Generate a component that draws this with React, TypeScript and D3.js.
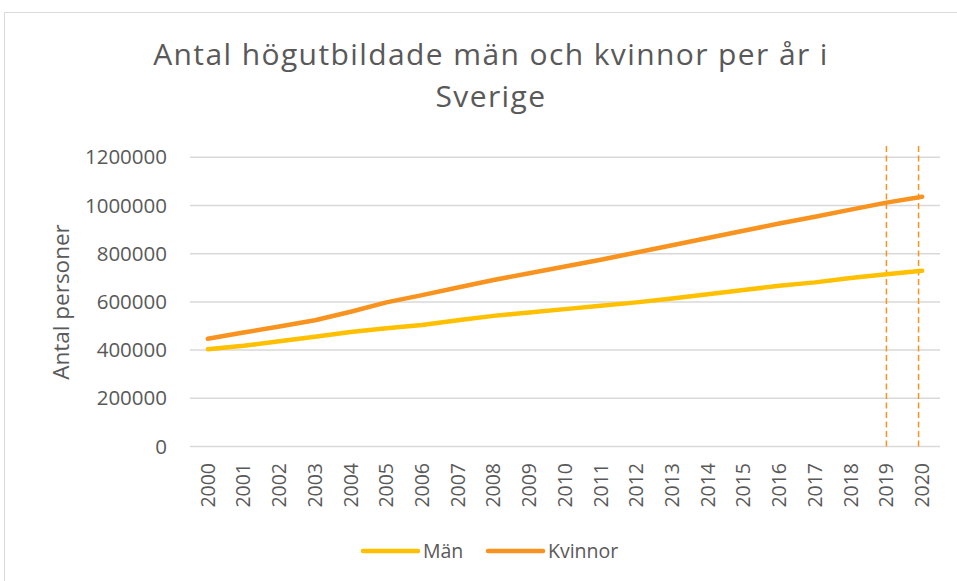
import React, { useRef, useEffect } from 'react';
import * as d3 from 'd3';

// years on the x axis
const years = [
  2000, 2001, 2002, 2003, 2004, 2005, 2006, 2007, 2008, 2009, 2010,
  2011, 2012, 2013, 2014, 2015, 2016, 2017, 2018, 2019, 2020,
];

// number of highly educated persons
const man = [
  404000, 418000, 437000, 455000, 475000, 491000, 504000, 524000, 542000, 556000, 570000,
  584000, 598000, 614000, 632000, 649000, 667000, 681000, 699000, 715000, 729000,
];
const kvinnor = [
  447000, 473000, 498000, 524000, 559000, 598000, 628000, 660000, 691000, 719000, 747000,
  775000, 805000, 835000, 865000, 895000, 925000, 953000, 983000, 1012000, 1036000,
];

const yTicks = [0, 200000, 400000, 600000, 800000, 1000000, 1200000];

// dashed marker lines (year position, top value)
const markerYears = [2019, 2019.9];
const markerTop = 1260000;

const titleLines = ['Antal högutbildade män och kvinnor per år i', 'Sverige'];
const yTitle = 'Antal personer';
const seriesNames = ['Män', 'Kvinnor'];

const YELLOW = '#ffc000';
const ORANGE = '#f7931e';
const TEXT = '#595959';
const GRID = '#d9d9d9';
const FONT = '"Open Sans", "Noto Sans", sans-serif';

function LineChart() {
  const svgRef = useRef<SVGSVGElement>(null);

  useEffect(() => {
    const svg = d3.select(svgRef.current);
    svg.selectAll('*').remove();

    const W = 957;
    const H = 581;

    // x band scale (categories) and y linear scale
    const x = d3.scaleBand<number>().domain(years).range([190, 940]);
    const xc = (yr: number) => (x(yr) as number) + x.bandwidth() / 2;
    const xYear = d3
      .scaleLinear()
      .domain([years[0], years[years.length - 1]])
      .range([xc(years[0]), xc(years[years.length - 1])]);
    const y = d3.scaleLinear().domain([0, 1200000]).range([446.5, 157.3]);

    // outer frame
    svg
      .append('rect')
      .attr('x', 4.5)
      .attr('y', 12.5)
      .attr('width', W + 20)
      .attr('height', H + 20)
      .attr('fill', '#fff')
      .attr('stroke', GRID)
      .attr('stroke-width', 1);

    // title
    svg
      .append('g')
      .selectAll('text')
      .data(titleLines)
      .join('text')
      .attr('x', 491)
      .attr('y', (d, i) => 65 + i * 41.5)
      .attr('text-anchor', 'middle')
      .attr('font-family', FONT)
      .attr('font-size', 30)
      .attr('letter-spacing', 1.4)
      .attr('fill', TEXT)
      .text((d) => d);

    // gridlines
    svg
      .append('g')
      .selectAll('line')
      .data(yTicks)
      .join('line')
      .attr('x1', 190)
      .attr('x2', 940)
      .attr('y1', (d) => y(d))
      .attr('y2', (d) => y(d))
      .attr('stroke', GRID)
      .attr('stroke-width', 1.5);

    // y tick labels
    svg
      .append('g')
      .selectAll('text')
      .data(yTicks)
      .join('text')
      .attr('x', 167)
      .attr('y', (d) => y(d))
      .attr('dy', '0.35em')
      .attr('text-anchor', 'end')
      .attr('font-family', FONT)
      .attr('font-size', 20.5)
      .attr('fill', TEXT)
      .text((d) => String(d));

    // y axis title
    svg
      .append('text')
      .attr('transform', 'translate(69,302) rotate(-90)')
      .attr('text-anchor', 'middle')
      .attr('font-family', FONT)
      .attr('font-size', 22.5)
      .attr('fill', TEXT)
      .text(yTitle);

    // x tick labels (rotated)
    svg
      .append('g')
      .selectAll('text')
      .data(years)
      .join('text')
      .attr('transform', (d) => `translate(${xc(d)},463) rotate(-90)`)
      .attr('dy', '0.35em')
      .attr('text-anchor', 'end')
      .attr('font-family', FONT)
      .attr('font-size', 19.5)
      .attr('fill', TEXT)
      .text((d) => String(d));

    // dashed markers
    svg
      .append('g')
      .selectAll('line')
      .data(markerYears)
      .join('line')
      .attr('x1', (d) => xYear(d))
      .attr('x2', (d) => xYear(d))
      .attr('y1', y(0))
      .attr('y2', y(markerTop))
      .attr('stroke', ORANGE)
      .attr('stroke-width', 1.5)
      .attr('stroke-dasharray', '6,3.5');

    // lines
    const line = d3
      .line<number>()
      .x((d, i) => xc(years[i]))
      .y((d) => y(d));

    const series = [
      { values: man, color: YELLOW },
      { values: kvinnor, color: ORANGE },
    ];

    svg
      .append('g')
      .selectAll('path')
      .data(series)
      .join('path')
      .attr('d', (s) => line(s.values))
      .attr('fill', 'none')
      .attr('stroke', (s) => s.color)
      .attr('stroke-width', 4.5)
      .attr('stroke-linecap', 'round')
      .attr('stroke-linejoin', 'round');

    // legend
    const legendX = [363, 488];
    const legend = svg
      .append('g')
      .selectAll('g')
      .data(series)
      .join('g')
      .attr('transform', (s, i) => `translate(${legendX[i]},551)`);
    legend
      .append('line')
      .attr('x1', 0)
      .attr('x2', 55)
      .attr('stroke', (s) => s.color)
      .attr('stroke-width', 4.5)
      .attr('stroke-linecap', 'round');
    legend
      .append('text')
      .attr('x', 60)
      .attr('dy', '0.35em')
      .attr('font-family', FONT)
      .attr('font-size', 19.5)
      .attr('fill', TEXT)
      .text((s, i) => seriesNames[i]);
  }, []);

  return (
    <svg
      ref={svgRef}
      width={957}
      height={581}
      style={{ position: 'absolute', left: 0, top: 0, display: 'block' }}
    ></svg>
  );
}

export default function App() {
  return <LineChart />;
}
